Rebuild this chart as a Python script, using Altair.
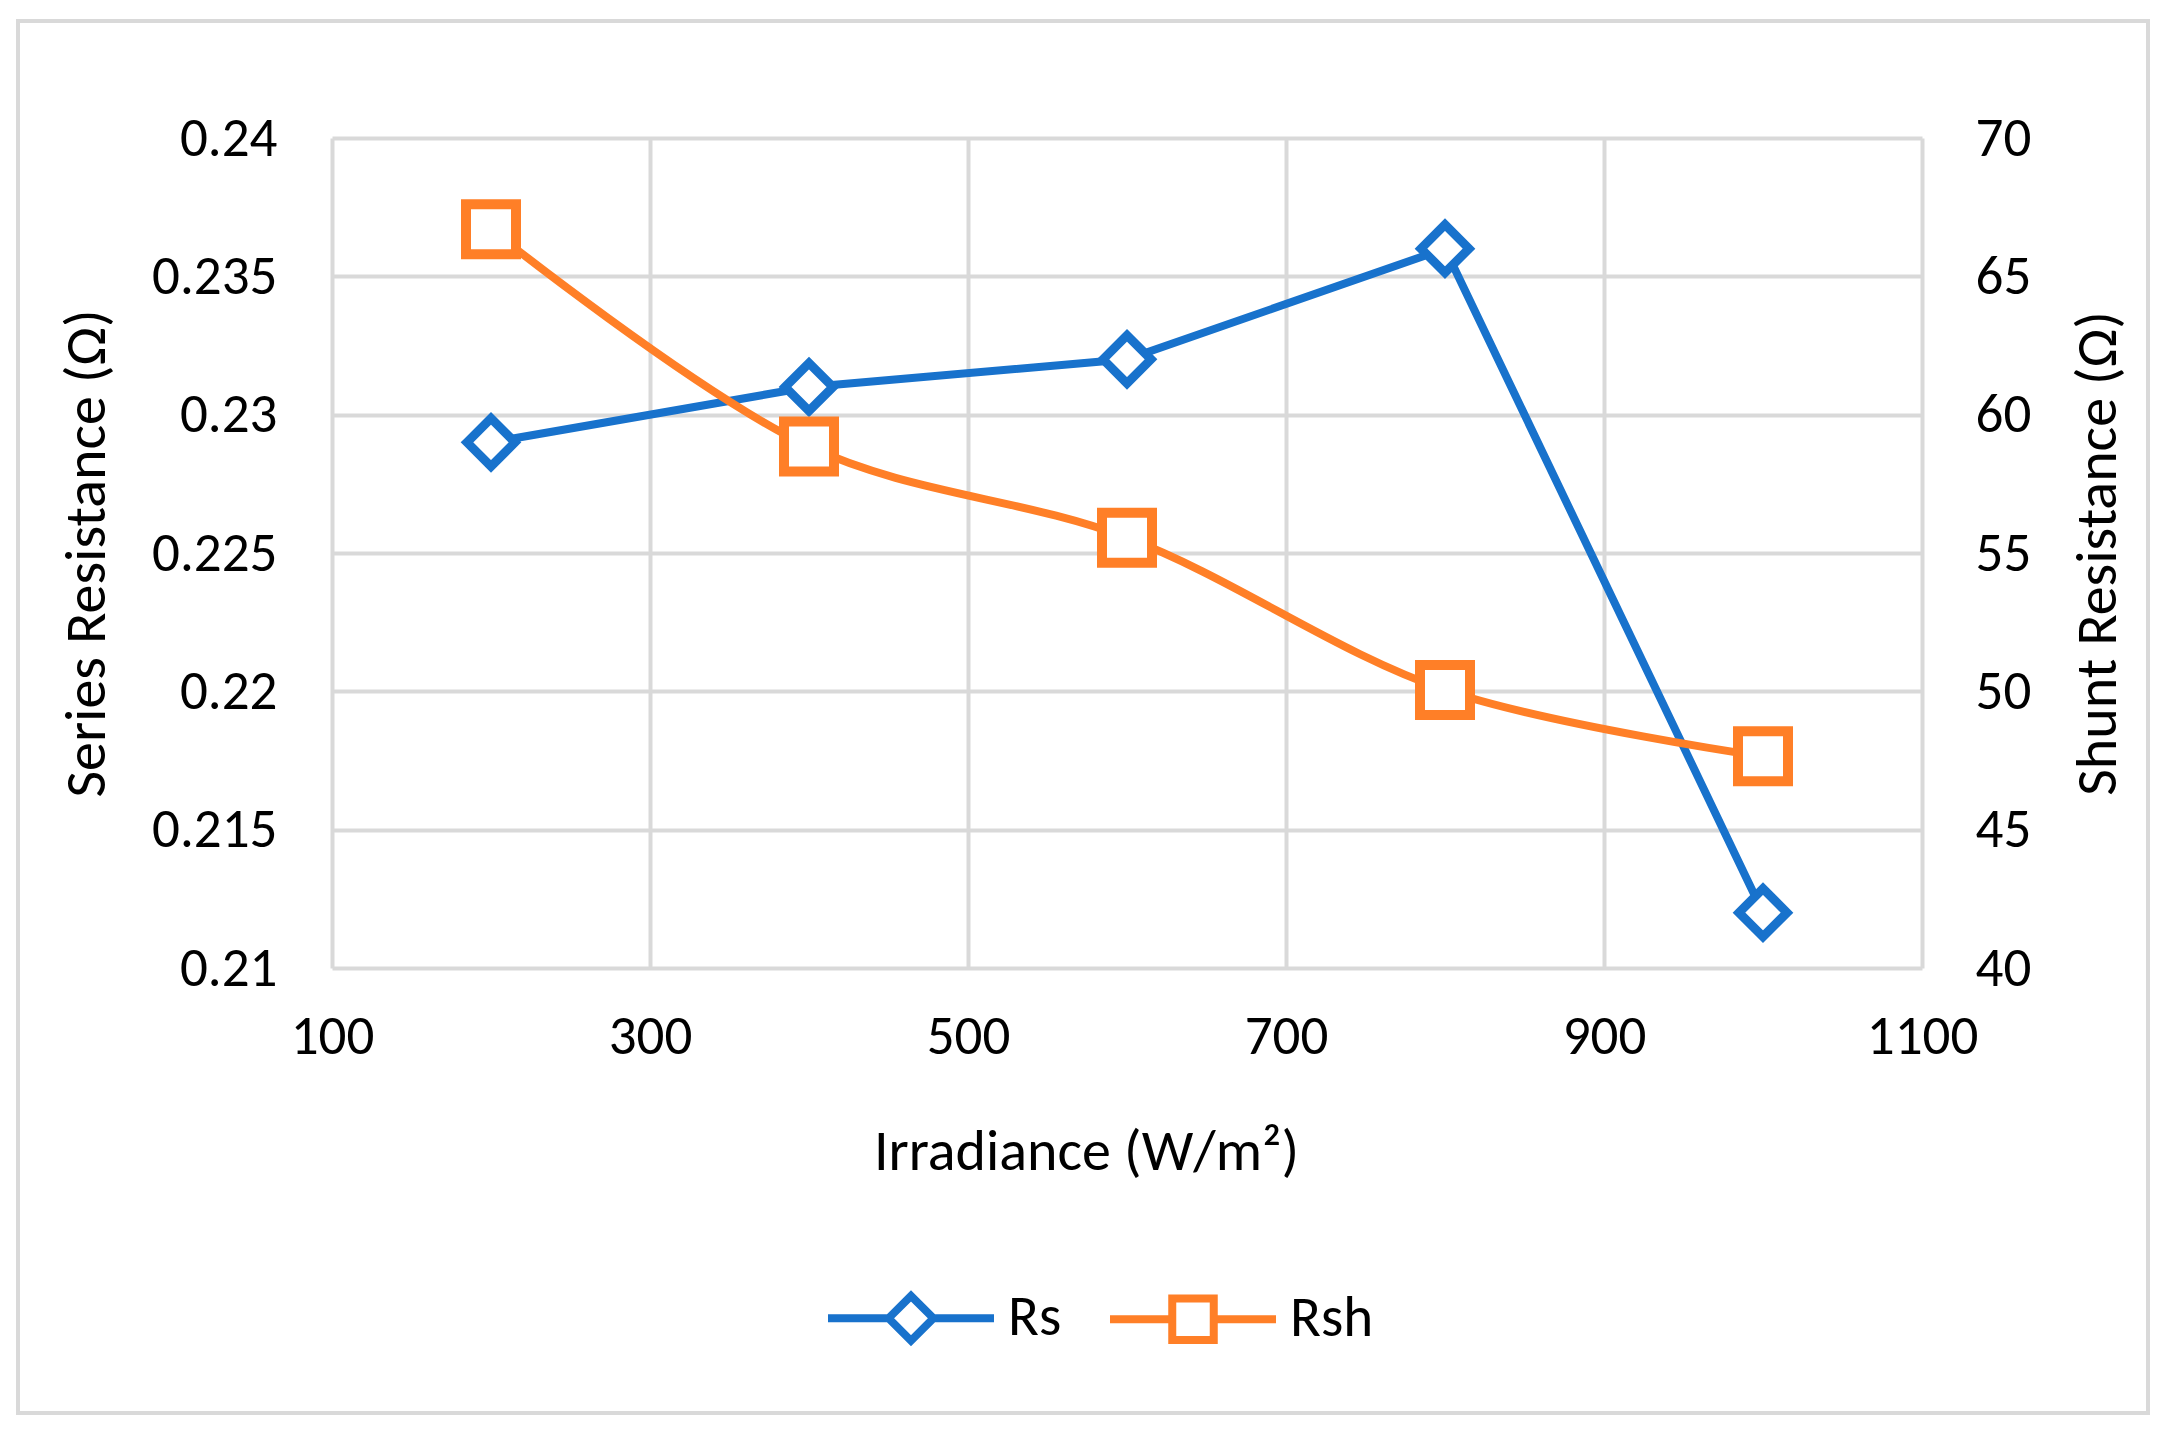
import altair as alt
import pandas as pd

irradiance = [200, 400, 600, 800, 1000]
rs_values = [0.229, 0.231, 0.232, 0.236, 0.212]
rsh_values = [66.7, 58.85, 55.55, 50.05, 47.65]
series_names = ["Rs", "Rsh"]
x_ticks = [100, 300, 500, 700, 900, 1100]
left_ticks = [0.21, 0.215, 0.22, 0.225, 0.23, 0.235, 0.24]
right_ticks = [40, 45, 50, 55, 60, 65, 70]

BLUE = "#1872CC"
ORANGE = "#FF7F27"
GRID = "#D9D9D9"
FONT = "Carlito, Lato, sans-serif"

df_rs = pd.DataFrame({"irr": irradiance, "rs": rs_values})
df_rsh = pd.DataFrame({"irr": irradiance, "rsh": rsh_values})
df_leg = pd.DataFrame({"series": series_names})

x_enc = alt.X("irr:Q", scale=alt.Scale(domain=[100, 1100], nice=False),
              axis=alt.Axis(values=x_ticks, format="d", title="Irradiance (W/m²)", grid=True,
                            labelFlush=False, labelBound=False, labelOverlap=False,
                            labelPadding=42, titleX=754, titleY=184,
                            titleBaseline="middle", titleAlign="center"))

y_left = alt.Y("rs:Q", scale=alt.Scale(domain=[0.21, 0.24], nice=False, zero=False),
               axis=alt.Axis(values=left_ticks, format=".3~f", title="Series Resistance (Ω)",
                             grid=True, labelPadding=55, labelOverlap=False, titleAngle=270, titleX=-245,
                             titleY=415, titleBaseline="middle", titleAlign="center"))

y_right = alt.Y("rsh:Q", scale=alt.Scale(domain=[40, 70], nice=False, zero=False),
                axis=alt.Axis(values=right_ticks, title="Shunt Resistance (Ω)", orient="right",
                              grid=False, labelPadding=53, labelOverlap=False, titleAngle=270, titleX=176,
                              titleY=415, titleBaseline="middle", titleAlign="center"))

rs_line = alt.Chart(df_rs).mark_line(color=BLUE, strokeWidth=8, strokeCap="round").encode(x=x_enc, y=y_left)
rs_pts = alt.Chart(df_rs).mark_point(shape="diamond", filled=True, fill="white", stroke=BLUE,
                                     strokeWidth=9, size=2300, opacity=1).encode(x=x_enc, y=y_left)
left = alt.layer(rs_line, rs_pts)

rsh_line = alt.Chart(df_rsh).mark_line(color=ORANGE, strokeWidth=8, strokeCap="round",
                                       interpolate="catmull-rom").encode(x=x_enc, y=y_right)
rsh_pts = alt.Chart(df_rsh).mark_point(shape="square", filled=True, fill="white", stroke=ORANGE,
                                       strokeWidth=10, size=2500, opacity=1).encode(x=x_enc, y=y_right)
right = alt.layer(rsh_line, rsh_pts)

diamond_path = "M-1,0L-0.27,0M0.27,0L1,0M-0.27,0L0,-0.27L0.27,0L0,0.27Z"
square_path = "M-1,0L-0.25,0M0.25,0L1,0M-0.25,-0.25L0.25,-0.25L0.25,0.25L-0.25,0.25Z"

leg = alt.Legend(title=None, orient="none", direction="horizontal", legendX=492, legendY=1093,
                 symbolSize=27556, symbolStrokeWidth=8, symbolOpacity=1, labelFont=FONT,
                 labelFontSize=57, labelColor="black", labelOffset=10, columnPadding=32,
                 padding=0, labelBaseline="middle")
legend_layer = alt.Chart(df_leg).transform_filter("false").mark_point(
    filled=False, strokeWidth=8, size=27556, opacity=1).encode(
    color=alt.Color("series:N", scale=alt.Scale(domain=series_names, range=[BLUE, ORANGE]), legend=leg),
    shape=alt.Shape("series:N", scale=alt.Scale(domain=series_names, range=[diamond_path, square_path]), legend=leg),
)

border = alt.Chart(pd.DataFrame({"a": [1]})).mark_rect(
    fill=None, fillOpacity=0, stroke=GRID, strokeWidth=4).encode(
    x=alt.value(-314), x2=alt.value(1816), y=alt.value(-117), y2=alt.value(1275))

chart = alt.layer(left, right, legend_layer, border).resolve_scale(
    y="independent", color="independent", shape="independent"
).properties(
    width=1590, height=830,
    autosize=alt.AutoSizeParams(type="none"),
    padding={"left": 324, "top": 130, "right": 230, "bottom": 450},
    background="white",
).configure_view(stroke=None).configure_axis(
    labelFont=FONT, labelFontSize=55, labelColor="black", titleFont=FONT,
    titleFontSize=58, titleFontWeight="normal", titleColor="black",
    ticks=False, tickSize=0, domain=False, gridColor=GRID, gridWidth=4, gridOpacity=1,
)

chart.save("out.html", embed_options={"renderer": "svg", "actions": False})
